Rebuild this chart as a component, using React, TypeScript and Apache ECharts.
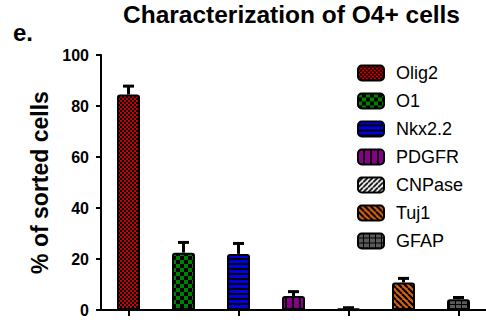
import React, { useEffect, useRef } from "react";
import * as echarts from "echarts";

const categories = ["Olig2", "O1", "Nkx2.2", "PDGFR", "CNPase", "Tuj1", "GFAP"];
const values = [84.5, 22.5, 22, 5.5, 0.5, 10.8, 4.2];
const errors = [3.3, 4, 4.1, 1.7, 0.4, 1.6, 0.7];
const yTickStep = 20;
const titleText = "Characterization of O4+ cells";
const yAxisName = "% of sorted cells";
const panelLabel = "e.";

const FONT = '"Liberation Sans", Arial, sans-serif';

type Ctx = CanvasRenderingContext2D;

function tile(w: number, h: number, draw: (ctx: Ctx) => void) {
  const c = document.createElement("canvas");
  c.width = w;
  c.height = h;
  const ctx = c.getContext("2d") as Ctx;
  draw(ctx);
  return { image: c, imageWidth: w, imageHeight: h, repeat: "repeat" } as any;
}

function makePatterns() {
  const olig2 = tile(4, 4, (ctx) => {
    ctx.fillStyle = "#000";
    ctx.fillRect(0, 0, 4, 4);
    ctx.fillStyle = "#c80000";
    ctx.fillRect(0, 0, 2, 2);
    ctx.fillRect(2, 2, 2, 2);
  });
  const o1 = tile(8, 8, (ctx) => {
    ctx.fillStyle = "#000";
    ctx.fillRect(0, 0, 8, 8);
    ctx.fillStyle = "#008000";
    ctx.fillRect(0, 0, 4, 4);
    ctx.fillRect(4, 4, 4, 4);
  });
  const nkx = tile(4, 5, (ctx) => {
    ctx.fillStyle = "#000";
    ctx.fillRect(0, 0, 4, 5);
    ctx.fillStyle = "#0000e0";
    ctx.fillRect(0, 0, 4, 3);
  });
  const pdgfr = tile(7, 4, (ctx) => {
    ctx.fillStyle = "#000";
    ctx.fillRect(0, 0, 7, 4);
    ctx.fillStyle = "#880088";
    ctx.fillRect(0, 0, 5, 4);
  });
  const diag = (n: number, bg: string, fg: string, lw: number, back: boolean) =>
    tile(n, n, (ctx) => {
      ctx.fillStyle = bg;
      ctx.fillRect(0, 0, n, n);
      ctx.strokeStyle = fg;
      ctx.lineWidth = lw;
      ctx.beginPath();
      for (const k of [-n, 0, n]) {
        if (back) {
          ctx.moveTo(k, 0);
          ctx.lineTo(k + n, n);
        } else {
          ctx.moveTo(k, n);
          ctx.lineTo(k + n, 0);
        }
      }
      ctx.stroke();
    });
  const cnpase = diag(5, "#fff", "#000", 1.8, false);
  const tuj1 = diag(6, "#d2600f", "#000", 2, true);
  const gfap = tile(6, 5, (ctx) => {
    ctx.fillStyle = "#000";
    ctx.fillRect(0, 0, 6, 5);
    ctx.fillStyle = "#5a5a5a";
    ctx.fillRect(0, 0, 5, 4);
  });
  return [olig2, o1, nkx, pdgfr, cnpase, tuj1, gfap];
}

export default function App() {
  const ref = useRef<HTMLDivElement>(null);

  useEffect(() => {
    if (!ref.current) return;
    const chart = echarts.init(ref.current, undefined, { renderer: "svg" });
    const patterns = makePatterns();

    const barSeries = categories.map((name, i) => ({
      name,
      type: "bar",
      barWidth: 23,
      barGap: "-100%",
      data: values.map((v, j) => (j === i ? v : "-")),
      itemStyle: {
        color: patterns[i],
        borderColor: "#000",
        borderWidth: 2,
        borderRadius: [2, 2, 0, 0],
      },
      z: 3,
    }));

    const errData = values.map((v, i) => [i, v, errors[i]]);

    const option: any = {
      animation: false,
      backgroundColor: "#fff",
      textStyle: { fontFamily: FONT },
      title: {
        text: titleText,
        left: 123,
        top: 2,
        padding: 0,
        textStyle: { fontSize: 24.5, fontWeight: "bold", color: "#000", fontFamily: FONT },
      },
      graphic: [
        {
          type: "text",
          left: 13,
          top: 20,
          style: { text: panelLabel, font: `bold 24px ${FONT}`, fill: "#000" },
        },
      ],
      legend: {
        orient: "vertical",
        left: 357,
        top: 64,
        padding: 0,
        itemWidth: 26,
        itemHeight: 15,
        itemGap: 10,
        icon: "roundRect",
        data: categories,
        itemStyle: { borderColor: "#000", borderWidth: 2 },
        textStyle: { fontSize: 18, color: "#000", fontFamily: FONT, padding: [0, 0, 0, 7] },
      },
      grid: { left: 101, right: 0, top: 55, bottom: 12, containLabel: false },
      xAxis: {
        type: "category",
        data: categories,
        boundaryGap: true,
        axisLine: { show: true, lineStyle: { color: "#000", width: 2 } },
        axisTick: { show: true, alignWithLabel: true, length: 6, lineStyle: { color: "#000", width: 2 } },
        axisLabel: { show: false },
        splitLine: { show: false },
      },
      yAxis: {
        type: "value",
        min: 0,
        max: 100,
        interval: yTickStep,
        name: yAxisName,
        nameLocation: "middle",
        nameGap: 50,
        nameTextStyle: { fontSize: 23, fontWeight: "bold", color: "#000", fontFamily: FONT },
        axisLine: { show: true, lineStyle: { color: "#000", width: 2 } },
        axisTick: { show: true, length: 5, lineStyle: { color: "#000", width: 2 } },
        axisLabel: { fontSize: 16, fontWeight: "bold", color: "#000", margin: 12, fontFamily: FONT },
        splitLine: { show: false },
      },
      series: [
        ...barSeries,
        {
          type: "custom",
          name: "err",
          data: errData,
          encode: { x: 0, y: 1 },
          z: 2,
          renderItem: (_params: any, api: any) => {
            const x = api.value(0);
            const v = api.value(1);
            const e = api.value(2);
            const p0 = api.coord([x, v]);
            const p1 = api.coord([x, v + e]);
            return {
              type: "group",
              children: [
                {
                  type: "line",
                  shape: { x1: p0[0], y1: p0[1], x2: p1[0], y2: p1[1] },
                  style: { stroke: "#000", lineWidth: 3 },
                },
                {
                  type: "line",
                  shape: { x1: p1[0] - 5.5, y1: p1[1], x2: p1[0] + 5.5, y2: p1[1] },
                  style: { stroke: "#000", lineWidth: 3 },
                },
              ],
            };
          },
        },
      ],
    };

    chart.setOption(option);
    return () => chart.dispose();
  }, []);

  return (
    <div
      ref={ref}
      style={{ position: "absolute", left: 0, top: 0, width: 486, height: 322, background: "#fff" }}
    />
  );
}
